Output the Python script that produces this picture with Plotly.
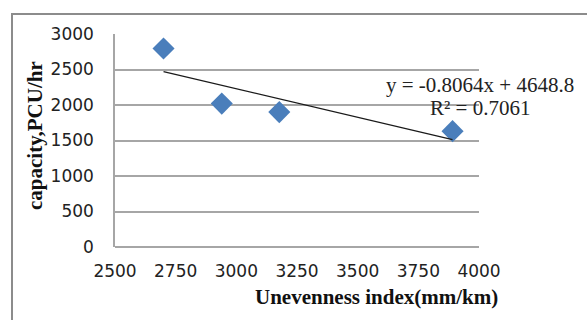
import plotly.graph_objects as go

# Unevenness index (mm/km) vs. observed capacity (PCU/hr)
unevenness = [2700, 2940, 3177, 3891]
capacity = [2795, 2020, 1900, 1632]

# Linear trendline reported for the data
slope = -0.8064
intercept = 4648.8
r_squared = 0.7061

x_ticks = [2500, 2750, 3000, 3250, 3500, 3750, 4000]
y_ticks = [0, 500, 1000, 1500, 2000, 2500, 3000]

W, H = 587, 320
L, R, T, B = 115, 108, 34, 73
pw, ph = W - L - R, H - T - B


def px(xp):
    return (xp - L) / pw


def py(yp):
    return (H - B - yp) / ph


grid_col = "#a6a6a6"
serif = "Liberation Serif, Times New Roman, serif"
sans = "DejaVu Sans, Verdana, sans-serif"

trend_x = [min(unevenness), max(unevenness)]
trend_y = [slope * v + intercept for v in trend_x]

fig = go.Figure()
fig.add_trace(go.Scatter(
    x=unevenness, y=capacity, mode="markers",
    marker=dict(symbol="diamond", size=17, color="#4A7EBB"),
    showlegend=False, hoverinfo="skip",
))
fig.add_trace(go.Scatter(
    x=trend_x, y=trend_y, mode="lines",
    line=dict(color="#1a1a1a", width=1.3),
    showlegend=False, hoverinfo="skip",
))

fig.update_layout(
    width=W, height=H,
    margin=dict(l=L, r=R, t=T, b=B),
    paper_bgcolor="white", plot_bgcolor="white",
    xaxis=dict(
        range=[x_ticks[0], x_ticks[-1]], tickvals=x_ticks,
        showgrid=False, zeroline=False, showline=False,
        ticks="", ticklabelstandoff=12,
        tickfont=dict(family=sans, size=17, color="#222"),
    ),
    yaxis=dict(
        range=[y_ticks[0], y_ticks[-1]], tickvals=y_ticks,
        showgrid=True, gridcolor=grid_col, gridwidth=1.5,
        zeroline=True, zerolinecolor=grid_col, zerolinewidth=1.5,
        showline=True, linecolor=grid_col, linewidth=1.5,
        ticks="", ticklabelstandoff=16,
        tickfont=dict(family=sans, size=17, color="#222"),
    ),
    shapes=[dict(
        type="rect", xref="paper", yref="paper",
        x0=px(12), x1=px(W + 10), y0=py(H + 10), y1=py(14),
        line=dict(color="#8c8c8c", width=2), fillcolor="rgba(0,0,0,0)",
        layer="below",
    )],
    annotations=[
        dict(text="<b>Unevenness index(mm/km)</b>", xref="paper", yref="paper",
             x=px(376), y=py(297), showarrow=False, xanchor="center", yanchor="middle",
             font=dict(family=serif, size=21, color="#111")),
        dict(text="<b>capacity,PCU/hr</b>", xref="paper", yref="paper",
             x=px(35), y=py(136), showarrow=False, textangle=-90,
             xanchor="center", yanchor="middle",
             font=dict(family=serif, size=21, color="#111")),
        dict(text=f"y = {slope:.4f}x + {intercept:.1f}", xref="paper", yref="paper",
             x=px(480), y=py(85), showarrow=False, xanchor="center", yanchor="middle",
             font=dict(family=serif, size=21, color="#222")),
        dict(text=f"R² = {r_squared:.4f}", xref="paper", yref="paper",
             x=px(480), y=py(108), showarrow=False, xanchor="center", yanchor="middle",
             font=dict(family=serif, size=21, color="#222")),
    ],
)

fig.write_html("out.html")
